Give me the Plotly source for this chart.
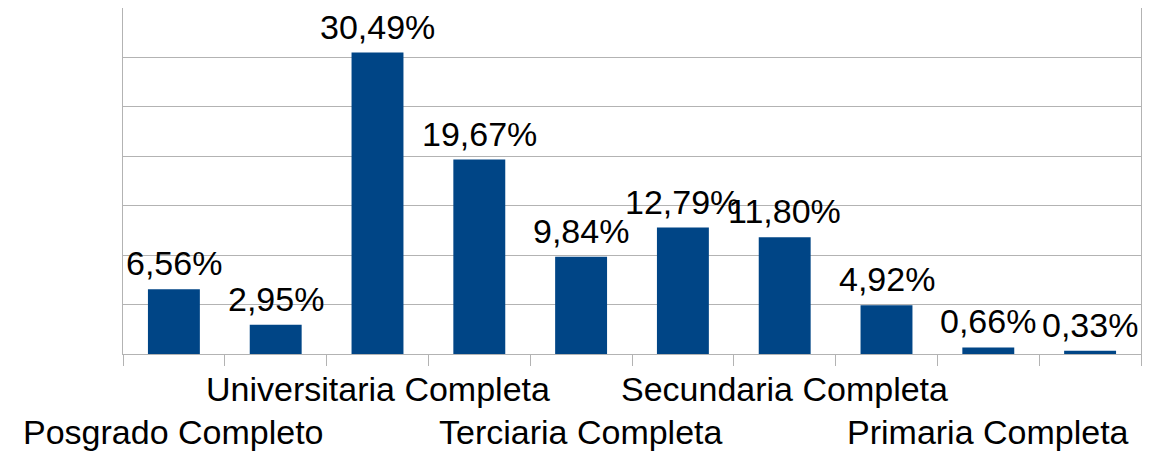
import plotly.graph_objects as go

categories = [
    "Posgrado Completo", "Posgrado Incompleto",
    "Universitaria Completa", "Universitaria Incompleta",
    "Terciaria Completa", "Terciaria Incompleta",
    "Secundaria Completa", "Secundaria Incompleta",
    "Primaria Completa", "Primaria Incompleta",
]
values = [6.56, 2.95, 30.49, 19.67, 9.84, 12.79, 11.80, 4.92, 0.66, 0.33]
shown_labels = ["Posgrado Completo", "", "Universitaria Completa", "",
                "Terciaria Completa", "", "Secundaria Completa", "",
                "Primaria Completa", ""]
label_rows = [1, 0, 0, 0, 1, 0, 0, 0, 1, 0]  # 1 = lower row

texts = [f"{v:.2f}".replace(".", ",") + "%" for v in values]

FONT = "Liberation Sans, Arial, sans-serif"

fig = go.Figure(go.Bar(
    x=categories, y=values, cliponaxis=False,
    marker=dict(color="#004586", line=dict(width=0)),
))

for cat, v, t in zip(categories, values, texts):
    fig.add_annotation(
        x=cat, y=v, xref="x", yref="y", text=t, showarrow=False,
        yanchor="bottom", yshift=5,
        font=dict(family=FONT, size=34, color="#000000"),
    )

for cat, lab, row in zip(categories, shown_labels, label_rows):
    if not lab:
        continue
    fig.add_annotation(
        x=cat, y=0, xref="x", yref="y", text=lab, showarrow=False,
        yanchor="middle", yshift=-78 if row else -35,
        font=dict(family=FONT, size=34, color="#000000"),
    )

fig.update_layout(
    width=1156, height=452,
    margin=dict(l=123, r=15, t=8, b=98),
    paper_bgcolor="white", plot_bgcolor="white",
    bargap=0.49, showlegend=False,
    xaxis=dict(
        type="category", range=[-0.5, 9.5], autorange=False,
        showticklabels=False, tickson="boundaries",
        ticks="outside", ticklen=11, tickcolor="#b3b3b3", tickwidth=1,
        showline=True, linecolor="#b3b3b3", linewidth=1, showgrid=False,
        automargin=False,
    ),
    yaxis=dict(
        range=[0, 35], autorange=False, dtick=5, showticklabels=False,
        showgrid=True, gridcolor="#b3b3b3", gridwidth=1, zeroline=False,
        showline=True, linecolor="#b3b3b3", linewidth=1, mirror=True,
        ticks="", automargin=False,
    ),
)

fig.write_html(
    "out.html",
    config={"displayModeBar": False},
    post_script="document.body.style.margin='0';document.body.style.overflow='hidden';",
)
